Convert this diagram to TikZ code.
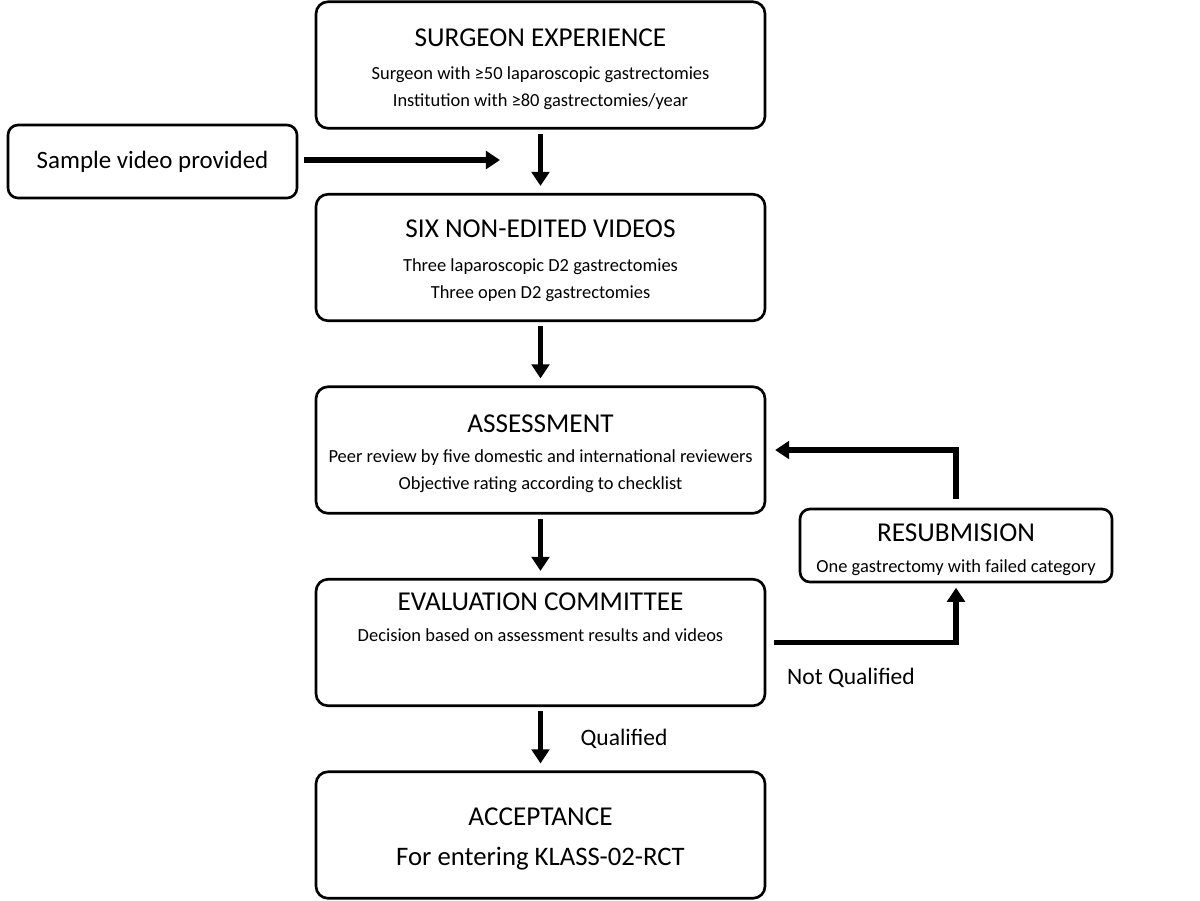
\documentclass[tikz,border=0pt]{standalone}
\usepackage{fontspec}
\setmainfont{Carlito}
\usepackage{tikz}
\usetikzlibrary{arrows.meta,positioning}
\newcommand{\boxtitle}[1]{{\fontsize{15.5}{18}\selectfont #1}}

\begin{document}
\begin{tikzpicture}[node distance=3.85cm, auto]
    \tikzset{box/.style={draw, rounded corners=0.24cm, line width=1.5pt, align=center, minimum width=8.98cm, minimum height=2.53cm, inner sep=0pt, font=\fontsize{10.5}{15.4}\selectfont}}
    \tikzset{side box/.style={draw, rounded corners=0.2cm, line width=1.5pt, align=center, minimum height=1.46cm, inner sep=0pt, font=\fontsize{10.5}{15.4}\selectfont}}
    \tikzset{flow/.style={line width=3pt, -{Triangle[length=8pt,width=10pt]}}}
    \tikzset{big/.style={font=\fontsize{14.2}{17}\selectfont}}
    \tikzset{tag/.style={font=\fontsize{13.4}{16}\selectfont}}
    \useasboundingbox (0,0) rectangle (24,-18);
    % Nodes
    \node (surgeon) [box, text height=47.4pt, text depth=0pt] at (10.81,-1.30) {\boxtitle{SURGEON EXPERIENCE}\\[3.5pt]
        Surgeon with ≥50 laparoscopic gastrectomies\\
        Institution with ≥80 gastrectomies/year};
    \node (videos) [below of=surgeon, box, text height=46.3pt, text depth=0pt] {\boxtitle{SIX NON-EDITED VIDEOS}\\[3.5pt]
        Three laparoscopic D2 gastrectomies\\
        Three open D2 gastrectomies};
    \node (assessment) [below of=videos, box, text height=45.2pt, text depth=0pt] {\boxtitle{ASSESSMENT}\\[2pt]
        Peer review by five domestic and international reviewers\\
        Objective rating according to checklist};
    \node (committee) [below of=assessment, box, text height=10pt, text depth=11.4pt] {\boxtitle{EVALUATION COMMITTEE}\\[2pt]
        Decision based on assessment results and videos};
    \node (acceptance) [below of=committee, box, text height=34.6pt, text depth=0pt, font=\fontsize{15.2}{18}\selectfont] {\boxtitle{ACCEPTANCE}\\[4.5pt]
        For entering KLASS-02-RCT};

    \node (sample) [side box, big, minimum width=5.78cm] at (3.05,-3.23) {Sample video provided};
    \node (resub) [side box, minimum width=6.24cm, text height=31pt, text depth=0pt] at (19.12,-10.91) {\boxtitle{RESUBMISION}\\[2.6pt]
        One gastrectomy with failed category};

    \node (notqual) [tag] at (17.02,-13.56) {Not Qualified};
    \node (qual) [tag] at (12.48,-14.78) {Qualified};
    \coordinate (join) at (10.0,-3.20);

    % Arrows
    \draw [flow, shorten <=2.5pt, shorten >=4pt] (surgeon) -- (videos);
    \draw [flow, shorten <=2.5pt, shorten >=4pt] (videos) -- (assessment);
    \draw [flow, shorten <=2.5pt, shorten >=4pt] (assessment) -- (committee);
    \draw [flow, shorten <=2.5pt, shorten >=4pt] (committee) -- (acceptance);
    \draw [flow, shorten <=3.5pt] (sample.east |- join) -- (join);
    \draw [flow, shorten <=4.5pt, shorten >=2.5pt] (committee.east) -| (resub.south);
    \draw [flow, shorten <=5pt, shorten >=5pt] (resub.north) |- (assessment.east);
\end{tikzpicture}
\end{document}
